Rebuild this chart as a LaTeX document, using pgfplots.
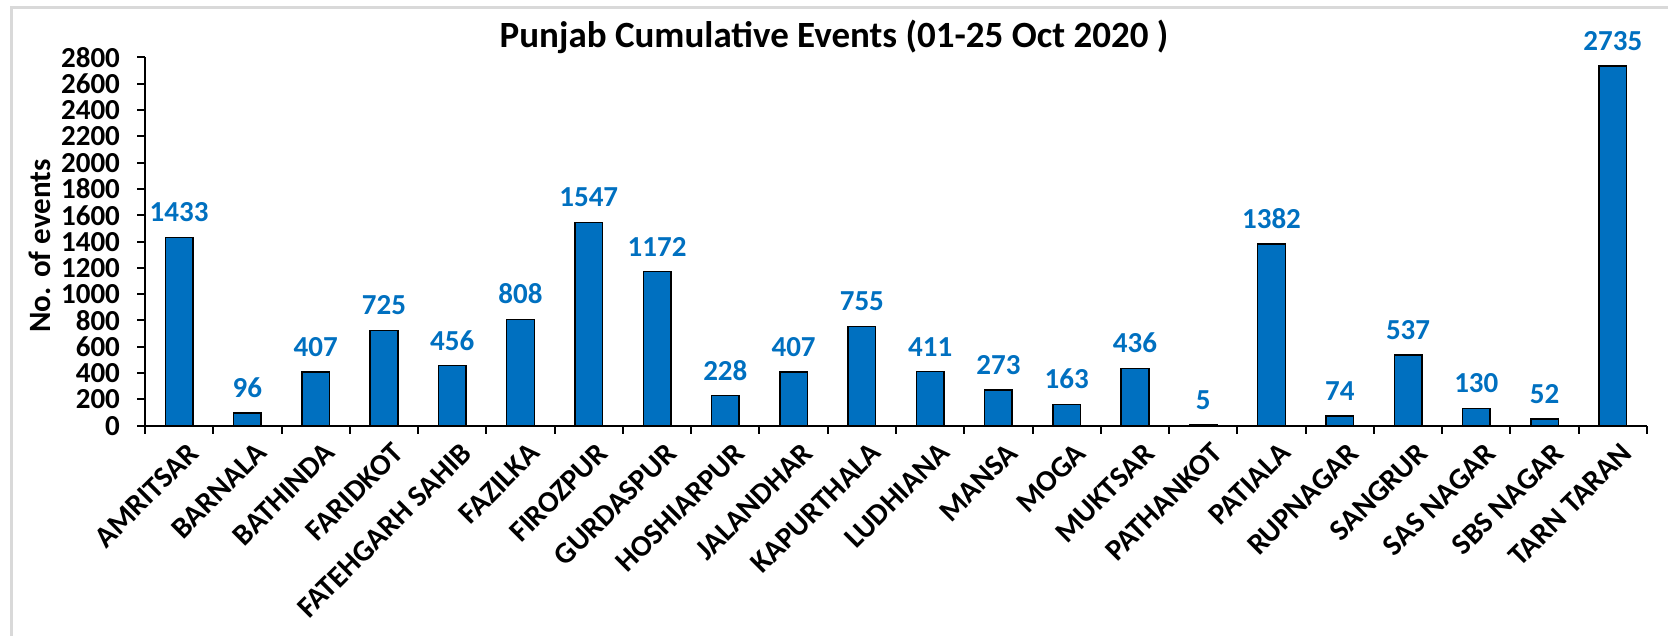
\documentclass[border=0pt]{standalone}
\usepackage{fontspec}
\setmainfont{Carlito}
\usepackage{pgfplots}
\pgfplotsset{compat=1.18}
\definecolor{barblue}{HTML}{0070C0}
\definecolor{framegray}{HTML}{D9D9D9}
\begin{document}
\begin{tikzpicture}[x=0.5pt,y=0.5pt]
\useasboundingbox (0,0) rectangle (1668,636);
\draw[framegray,line width=1.5pt] (11,0) -- (11,628) -- (1668,628);
\node[font=\bfseries\fontsize{18.5pt}{20pt}\selectfont] at (834,599) {Punjab Cumulative Events (01-25 Oct 2020 )};
\node[font=\bfseries\fontsize{15.5pt}{17pt}\selectfont,rotate=90] at (40,390) {No. of events};
\begin{axis}[
  at={(72.5pt,105.15pt)}, anchor=south west,
  scale only axis, width=751pt, height=184.1pt,
  xmin=-0.5, xmax=21.5, ymin=0, ymax=2800,
  axis x line=bottom, axis y line=left,
  axis line style={-, line width=1pt},
  ytick distance=200,
  xtick={0,...,21},
  xticklabels={AMRITSAR,BARNALA,BATHINDA,FARIDKOT,FATEHGARH SAHIB,FAZILKA,FIROZPUR,GURDASPUR,HOSHIARPUR,JALANDHAR,KAPURTHALA,LUDHIANA,MANSA,MOGA,MUKTSAR,PATHANKOT,PATIALA,RUPNAGAR,SANGRUR,SAS NAGAR,SBS NAGAR,TARN TARAN},
  major x tick style={draw=none},
  minor xtick={-0.5,0.5,...,21.5},
  minor tick length=4pt,
  major tick length=4pt,
  tick align=outside,
  every tick/.style={black, line width=1pt},
  /pgf/number format/assume math mode=true,
  /pgf/number format/1000 sep={},
  ticklabel style={font=\bfseries\fontsize{14.5pt}{16pt}\selectfont},
  y tick label style={xshift=-5pt},
  x tick label style={font=\bfseries\fontsize{15pt}{16pt}\selectfont, rotate=45, anchor=north east, inner sep=1pt, yshift=-4pt, xshift=1pt},
  ybar, bar width=13.8pt,
  nodes near coords,
  nodes near coords style={font=\bfseries\fontsize{14.5pt}{16pt}\selectfont, text=barblue, yshift=4pt},
  clip=false,
]
\addplot[fill=barblue, draw=black, line width=0.75pt] coordinates {
(0,1433) (1,96) (2,407) (3,725) (4,456) (5,808) (6,1547) (7,1172) (8,228) (9,407) (10,755)
(11,411) (12,273) (13,163) (14,436) (15,5) (16,1382) (17,74) (18,537) (19,130) (20,52) (21,2735)};
\end{axis}
\end{tikzpicture}
\end{document}
